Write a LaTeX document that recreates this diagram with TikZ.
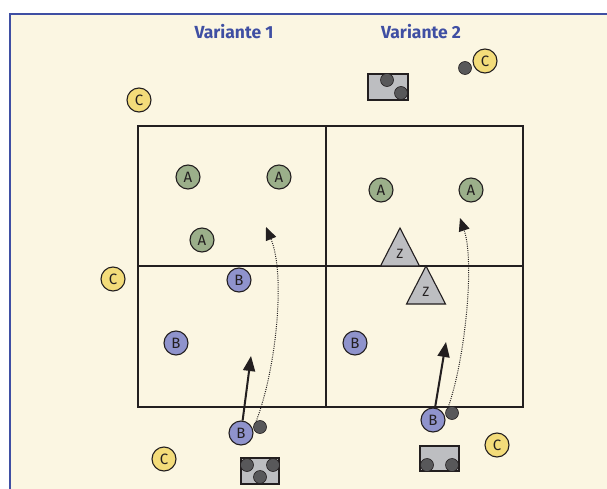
\documentclass[tikz,border=0pt]{standalone}
\usepackage{fontspec}
\setmainfont{Fira Sans}
\usetikzlibrary{arrows.meta}
\definecolor{cream}{HTML}{FBF6E2}
\definecolor{frameblue}{HTML}{3F4FA3}
\definecolor{cyel}{HTML}{F3DC7A}
\definecolor{agreen}{HTML}{9BAF8A}
\definecolor{bblue}{HTML}{8F93CC}
\definecolor{lgray}{HTML}{BDBEC1}
\definecolor{dgray}{HTML}{58585A}
\definecolor{ink}{HTML}{231F20}
\tikzset{
  player/.style={circle, draw=ink, line width=1.1pt, minimum size=24pt, inner sep=0pt, font=\fontsize{15}{15}\selectfont, text=ink},
  pc/.style={player, fill=cyel},
  pa/.style={player, fill=agreen},
  pb/.style={player, fill=bblue},
  ball/.style={circle, draw=ink, line width=0.6pt, fill=dgray, minimum size=13pt, inner sep=0pt},
  goalbox/.style={draw=ink, line width=1.1pt, fill=lgray, rectangle},
  field/.style={draw=ink, line width=1.1pt},
  cone/.style={draw=ink, line width=1.1pt, fill=lgray},
  conelabel/.style={font=\fontsize{13.5}{13.5}\selectfont, text=ink},
  runarrow/.style={line width=2pt, draw=ink, -{Triangle[length=15pt,width=12pt]}},
  passarrow/.style={line width=1pt, draw=ink, dash pattern=on 1pt off 1.2pt, -{Triangle[length=13pt,width=11pt]}},
  title/.style={text=frameblue, font=\fontsize{17.5}{17.5}\selectfont\bfseries}
}
\begin{document}
\begin{tikzpicture}[x=1pt,y=-1pt]
\useasboundingbox (0,0) rectangle (607,489);
\clip (0,0) rectangle (607,489);
\fill[white] (0,0) rectangle (607,489);
\draw[frameblue, line width=2.5pt, fill=cream] (10,14) rectangle (640,520);

\node[title] (v1) at (234,32) {Variante 1};
\node[title] (v2) at (421,32) {Variante 2};

% field
\draw[field] (138,126) rectangle (523,407);
\draw[field] (326,126) -- (326,407);
\draw[field] (138,266) -- (523,266);

% top right equipment
\node[goalbox, minimum width=40pt, minimum height=26pt] (g1) at (388,87) {};
\node[ball] (g1a) at (387,80) {};
\node[ball] (g1b) at (401,93) {};
\node[ball] (d0) at (465,68) {};
\node[pc] (c2) at (485,61) {C};

\node[pc] (c1) at (139,100) {C};
\node[pc] (c3) at (113,279) {C};
\node[pc] (c4) at (164,459) {C};
\node[pc] (c5) at (497,445) {C};

\node[pa] (a1) at (188,177) {A};
\node[pa] (a2) at (279,177) {A};
\node[pa] (a3) at (202,240) {A};
\node[pa] (a4) at (381,190) {A};
\node[pa] (a5) at (471,190) {A};

% cones
\draw[cone] (400,228) -- (419.5,266) -- (380.5,266) -- cycle;
\node[conelabel] (z1) at (400,254) {Z};
\draw[cone] (426,266) -- (445.5,304) -- (406.5,304) -- cycle;
\node[conelabel] (z2) at (426,292) {Z};

\node[pb] (b1) at (239,280) {B};
\node[pb] (b2) at (176,343) {B};
\node[pb] (b3) at (241,433) {B};
\node[pb] (b4) at (355,343) {B};
\node[pb] (b5) at (433,420) {B};

\node[ball] (d1) at (260,427) {};
\node[ball] (d2) at (452,413) {};

% bottom goals
\node[goalbox, minimum width=38pt, minimum height=26pt] (g2) at (260,471) {};
\node[ball] (g2a) at (247,465) {};
\node[ball] (g2b) at (273,465) {};
\node[ball] (g2c) at (260,477) {};
\node[goalbox, minimum width=39pt, minimum height=25pt] (g3) at (439.5,458.5) {};
\node[ball] (g3a) at (427,465) {};
\node[ball] (g3b) at (452,465) {};

% arrows
\coordinate (t1) at (251,356);
\coordinate (t2) at (446,342);
\coordinate (p1) at (266,227);
\coordinate (p2) at (460,218);
\draw[runarrow] (b3) -- (t1);
\draw[runarrow] (b5) -- (t2);
\draw[passarrow] (d1.125) .. controls (276,370) and (286,275) .. (p1);
\draw[passarrow] (d2.125) .. controls (465,360) and (475,262) .. (p2);
\end{tikzpicture}
\end{document}
